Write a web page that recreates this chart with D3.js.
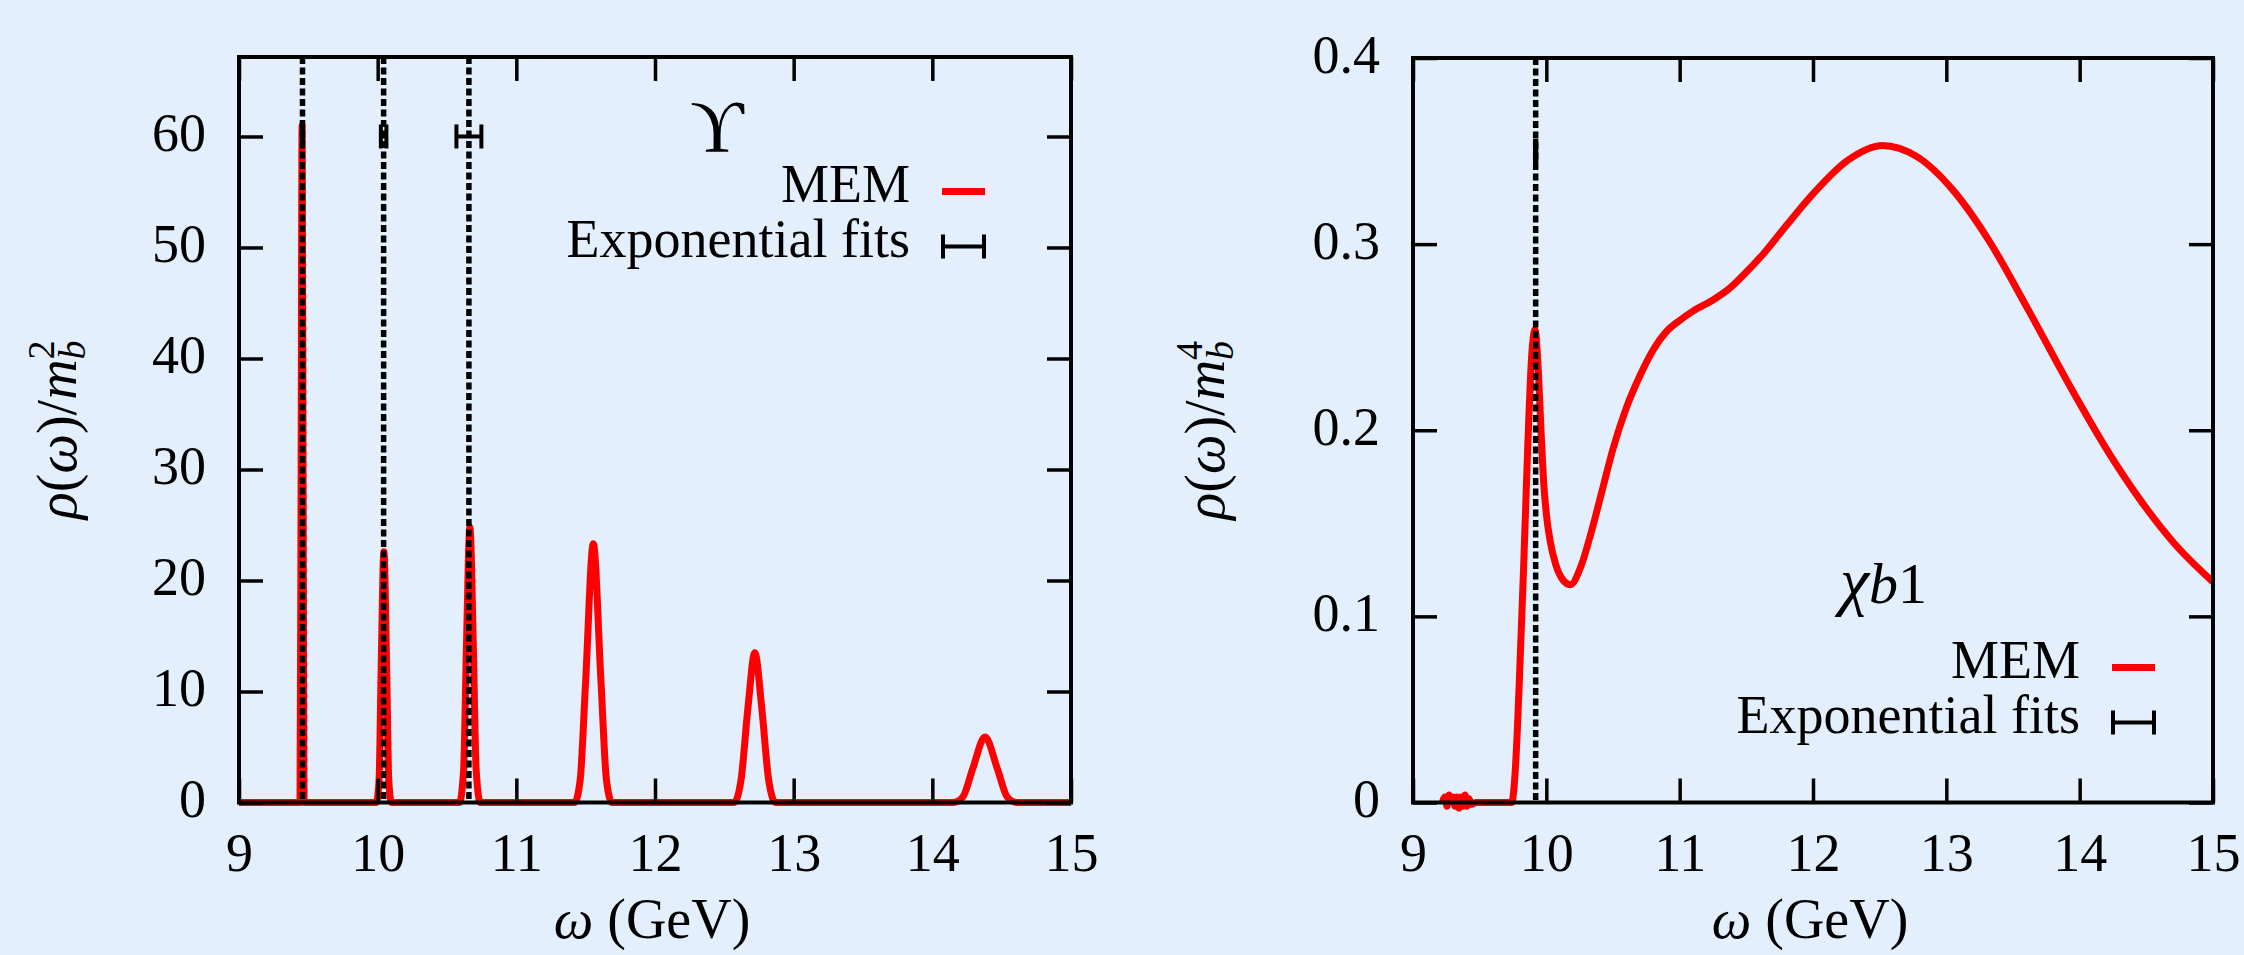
<!DOCTYPE html>
<html>
<head>
<meta charset="utf-8">
<script src="https://cdnjs.cloudflare.com/ajax/libs/d3/7.8.5/d3.min.js"></script>
<style>
  html, body { margin: 0; padding: 0; background: #e3effd; }
  svg { display: block; }
  text { font-family: "Liberation Serif", "DejaVu Serif", serif; fill: #000; }
</style>
</head>
<body>
<svg id="chart" width="2244" height="955"></svg>
<script>
// ---------------- data ----------------
const xTicks = [9, 10, 11, 12, 13, 14, 15];
const upsilonYTicks = [0, 10, 20, 30, 40, 50, 60];
const chiYTicks = [0, 0.1, 0.2, 0.3, 0.4];

// MEM spectral function, Upsilon channel: [omega (GeV), rho/m_b^2]
const upsilonMEM = [
  [9.0, 0], [9.44, 0], [9.448, 30], [9.455, 61], [9.462, 30], [9.47, 0],
  [9.99, 0], [10.01, 2], [10.025, 12], [10.045, 22.6], [10.065, 12], [10.08, 2], [10.1, 0],
  [10.59, 0], [10.62, 3], [10.64, 14], [10.665, 24.8], [10.69, 14], [10.71, 3], [10.74, 0],
  [11.42, 0], [11.46, 2], [11.5, 11], [11.555, 23.3], [11.61, 11], [11.65, 2], [11.69, 0],
  [12.57, 0], [12.62, 2], [12.67, 8.5], [12.72, 13.5], [12.77, 8.5], [12.82, 2], [12.87, 0],
  [14.15, 0], [14.22, 0.5], [14.29, 3], [14.38, 5.9], [14.47, 3], [14.54, 0.5], [14.61, 0],
  [15.0, 0]
];
// Exponential fit masses (GeV), errors, and the height the bars are drawn at
const upsilonFitMass = [9.458, 10.043, 10.658];
const upsilonFitErr = [0.004, 0.02, 0.09];
const upsilonFitY = 60;

// MEM spectral function, chi_b1 channel: [omega (GeV), rho/m_b^4]
const chiMEM = [
  [9.22, 0], [9.24, 0.003], [9.255, -0.002], [9.27, 0.004], [9.285, 0.001], [9.30, 0.003],
  [9.315, -0.002], [9.33, 0.003], [9.345, -0.003], [9.36, 0.003], [9.375, -0.002],
  [9.39, 0.004], [9.405, -0.002], [9.42, 0.002], [9.44, -0.001], [9.47, 0], [9.6, 0],
  [9.74, 0], [9.76, 0.01], [9.78, 0.035], [9.80, 0.07], [9.83, 0.127], [9.86, 0.19],
  [9.89, 0.24], [9.915, 0.254], [9.94, 0.232], [9.96, 0.2], [9.98, 0.172], [10.0, 0.155],
  [10.03, 0.14], [10.07, 0.128], [10.12, 0.12], [10.18, 0.117], [10.26, 0.127], [10.34, 0.146],
  [10.42, 0.168], [10.5, 0.19], [10.6, 0.212], [10.7, 0.229], [10.8, 0.243], [10.9, 0.253],
  [11.0, 0.259], [11.1, 0.264], [11.25, 0.27], [11.37, 0.276], [11.5, 0.285], [11.63, 0.295],
  [11.8, 0.31], [12.0, 0.327], [12.26, 0.345], [12.52, 0.353], [12.78, 0.347], [13.05, 0.329],
  [13.31, 0.303], [13.62, 0.264], [13.94, 0.222], [14.2, 0.19], [14.45, 0.163], [14.7, 0.14],
  [15.0, 0.1185]
];
const chiFitMass = [9.92];
const chiFitErr = [0.005];
const chiFitY = 0.35;

// ---------------- drawing ----------------
const svg = d3.select("#chart");
const RED = "#ff0000";
const FS = 54;

function panel(opts) {
  const x = d3.scaleLinear().domain([9, 15]).range([opts.x0, opts.x1]);
  const y = d3.scaleLinear().domain(opts.yDomain).range([opts.yBottom, opts.yTop]);
  const g = svg.append("g");

  // MEM curve
  const line = d3.line().x(d => x(d[0])).y(d => y(d[1])).curve(d3.curveMonotoneX);
  g.append("path").datum(opts.mem).attr("d", line)
    .attr("fill", "none").attr("stroke", RED).attr("stroke-width", 7)
    .attr("stroke-linejoin", "round");

  // dashed vertical lines at fit masses
  g.selectAll("line.vl").data(opts.fitMass).enter().append("line")
    .attr("x1", d => x(d)).attr("x2", d => x(d))
    .attr("y1", opts.yTop).attr("y2", opts.yBottom)
    .attr("stroke", "#000").attr("stroke-width", 5.5).attr("stroke-dasharray", "7,3.5");

  // error bars
  const eb = g.selectAll("g.eb").data(opts.fitMass.map((m, i) => [m, opts.fitErr[i]])).enter().append("g");
  eb.append("line").attr("x1", d => x(d[0] - d[1])).attr("x2", d => x(d[0] + d[1]))
    .attr("y1", y(opts.fitY)).attr("y2", y(opts.fitY)).attr("stroke", "#000").attr("stroke-width", 4);
  eb.append("line").attr("x1", d => x(d[0] - d[1])).attr("x2", d => x(d[0] - d[1]))
    .attr("y1", y(opts.fitY) - 12).attr("y2", y(opts.fitY) + 12).attr("stroke", "#000").attr("stroke-width", 4);
  eb.append("line").attr("x1", d => x(d[0] + d[1])).attr("x2", d => x(d[0] + d[1]))
    .attr("y1", y(opts.fitY) - 12).attr("y2", y(opts.fitY) + 12).attr("stroke", "#000").attr("stroke-width", 4);

  // axes (inward ticks, mirrored)
  const TL = 24;
  const axB = g.append("g").attr("transform", `translate(0,${opts.yBottom})`)
    .call(d3.axisBottom(x).tickValues(xTicks).tickSize(-TL).tickSizeOuter(0).tickFormat(d3.format("d")));
  const axT = g.append("g").attr("transform", `translate(0,${opts.yTop})`)
    .call(d3.axisTop(x).tickValues(xTicks).tickSize(-TL).tickSizeOuter(0).tickFormat(""));
  const axL = g.append("g").attr("transform", `translate(${opts.x0},0)`)
    .call(d3.axisLeft(y).tickValues(opts.yTicks).tickSize(-TL).tickSizeOuter(0).tickFormat(opts.yFmt));
  const axR = g.append("g").attr("transform", `translate(${opts.x1},0)`)
    .call(d3.axisRight(y).tickValues(opts.yTicks).tickSize(-TL).tickSizeOuter(0).tickFormat(""));
  [axB, axT, axL, axR].forEach(a => {
    a.select(".domain").remove();
    a.selectAll(".tick line").attr("stroke", "#000").attr("stroke-width", 3.5);
    a.attr("font-family", null).attr("font-size", null);
  });
  axB.selectAll(".tick text").attr("y", 68).attr("dy", null)
    .style("font-size", FS + "px");
  axL.selectAll(".tick text").attr("x", -33).attr("dy", null).attr("y", 14)
    .style("font-size", FS + "px");

  // frame
  g.append("rect").attr("x", opts.x0).attr("y", opts.yTop)
    .attr("width", opts.x1 - opts.x0).attr("height", opts.yBottom - opts.yTop)
    .attr("fill", "none").attr("stroke", "#000").attr("stroke-width", 4);

  // x label
  const xl = g.append("text").attr("x", (opts.x0 + opts.x1) / 2 - 3).attr("y", 938)
    .attr("text-anchor", "middle").style("font-size", "56px");
  xl.append("tspan").style("font-style", "italic").text("ω");
  xl.append("tspan").text(" (GeV)");

  // y label
  const yl = g.append("text")
    .attr("transform", `translate(${opts.ylx},${(opts.yTop + opts.yBottom) / 2}) rotate(-90)`)
    .attr("text-anchor", "middle").style("font-size", "56px");
  yl.append("tspan").style("font-style", "italic").text("ρ");
  yl.append("tspan").text("(");
  yl.append("tspan").style("font-style", "italic").text("ω");
  yl.append("tspan").text(")/");
  yl.append("tspan").style("font-style", "italic").text("m");
  yl.append("tspan").style("font-style", "italic").style("font-size", "38px").attr("dy", 9).text("b");
  yl.append("tspan").style("font-size", "38px").attr("dx", -19).attr("dy", -31).text(opts.power);

  // legend
  const lx = opts.legX, ly = opts.legY;
  g.append("text").attr("x", lx).attr("y", ly).attr("text-anchor", "end")
    .style("font-size", FS + "px").text("MEM");
  g.append("line").attr("x1", lx + 32).attr("x2", lx + 75).attr("y1", ly - 10.5).attr("y2", ly - 10.5)
    .attr("stroke", RED).attr("stroke-width", 7);
  g.append("text").attr("x", lx).attr("y", ly + 55).attr("text-anchor", "end")
    .style("font-size", FS + "px").text("Exponential fits");
  const by = ly + 55 - 10.5;
  g.append("line").attr("x1", lx + 33).attr("x2", lx + 74).attr("y1", by).attr("y2", by)
    .attr("stroke", "#000").attr("stroke-width", 4);
  g.append("line").attr("x1", lx + 33).attr("x2", lx + 33).attr("y1", by - 12).attr("y2", by + 12)
    .attr("stroke", "#000").attr("stroke-width", 4);
  g.append("line").attr("x1", lx + 74).attr("x2", lx + 74).attr("y1", by - 12).attr("y2", by + 12)
    .attr("stroke", "#000").attr("stroke-width", 4);

  return { g, x, y };
}

const left = panel({
  x0: 239, x1: 1071, yTop: 57, yBottom: 802.5, yDomain: [0, 67.16],
  yTicks: upsilonYTicks, yFmt: d => String(d),
  mem: upsilonMEM, fitMass: upsilonFitMass, fitErr: upsilonFitErr, fitY: upsilonFitY,
  ylx: 76, power: "2", legX: 910, legY: 202
});
left.g.append("text").attr("x", 717).attr("y", 152).attr("text-anchor", "middle")
  .style("font-size", "74px").text("ϒ");

const right = panel({
  x0: 1413, x1: 2213, yTop: 58, yBottom: 802.5, yDomain: [0, 0.4],
  yTicks: chiYTicks, yFmt: d => d === 0 ? "0" : d3.format(".1f")(d),
  mem: chiMEM, fitMass: chiFitMass, fitErr: chiFitErr, fitY: chiFitY,
  ylx: 1224, power: "4", legX: 2080, legY: 678
});
const chi = right.g.append("text").attr("x", 1840).attr("y", 603).style("font-size", "66px");
chi.append("tspan").style("font-style", "italic").text("χ");
chi.append("tspan").style("font-style", "italic").style("font-size", "58px").text("b");
chi.append("tspan").style("font-size", "58px").text("1");
</script>
</body>
</html>
